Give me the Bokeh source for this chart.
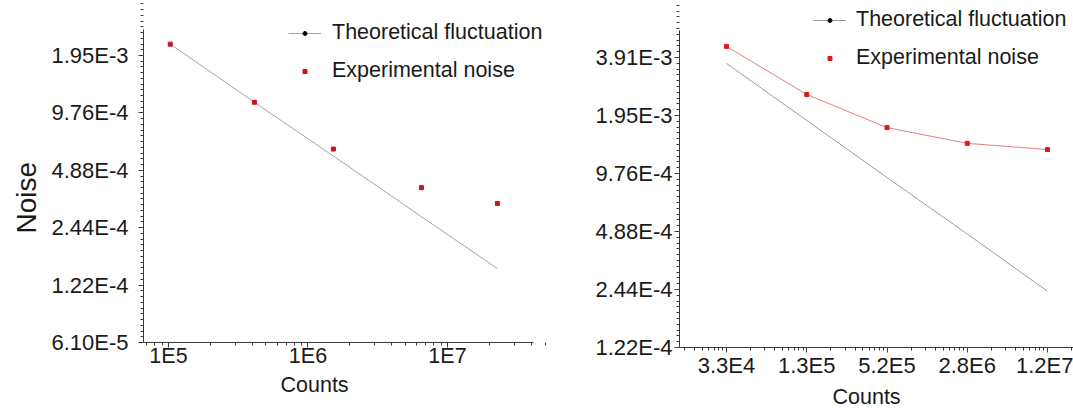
import math
from bokeh.plotting import figure
from bokeh.models import (FixedTicker, Legend, LegendItem, Title,
                          Range1d, CustomJSTickFormatter)
from bokeh.layouts import row
from bokeh.embed import file_html
from bokeh.resources import INLINE

FONT = "Liberation Sans"

# ---------------- data: left panel ----------------
left_counts = [1.03e5, 4.13e5, 1.52e6, 6.5e6, 2.28e7]
left_theory = [2.24e-3, 1.11e-3, 5.8e-4, 2.79e-4, 1.49e-4]
left_exp = [2.24e-3, 1.11e-3, 6.31e-4, 3.96e-4, 3.27e-4]
left_y_ticks = [2 ** -9, 2 ** -10, 2 ** -11, 2 ** -12, 2 ** -13, 2 ** -14]
left_y_labels = ["1.95E-3", "9.76E-4", "4.88E-4", "2.44E-4", "1.22E-4", "6.10E-5"]
left_x_ticks = [1e5, 1e6, 1e7]
left_x_labels = ["1E5", "1E6", "1E7"]

# ---------------- data: right panel ----------------
right_count_labels = ["3.3E4", "1.3E5", "5.2E5", "2.8E6", "1.2E7"]
right_theory = [3.64e-3, 1.84e-3, 9.31e-4, 4.74e-4, 2.39e-4]
right_exp = [4.46e-3, 2.51e-3, 1.69e-3, 1.40e-3, 1.30e-3]
right_y_ticks = [2 ** -8, 2 ** -9, 2 ** -10, 2 ** -11, 2 ** -12, 2 ** -13]
right_y_labels = ["3.91E-3", "1.95E-3", "9.76E-4", "4.88E-4", "2.44E-4", "1.22E-4"]

AXIS_COLOR = "#3a3a3a"
TEXT_COLOR = "#1a1a1a"
THEORY_COLOR = "#a4a4a4"
EXP_COLOR = "#cc1420"
EXP_LINE_COLOR = "#e58080"

LOG_FMT = """
let best = 0, bd = Infinity;
for (let i = 0; i < tv.length; i++) {
  const d = Math.abs(Math.log(tick) - Math.log(tv[i]));
  if (d < bd) { bd = d; best = i; }
}
return lb[best];
"""


def log_formatter(tick_vals, labels):
    return CustomJSTickFormatter(args=dict(tv=tick_vals, lb=labels), code=LOG_FMT)


def octave_minors(lo_exp, hi_exp, n):
    out = []
    for e in range(lo_exp, hi_exp):
        for i in range(1, n + 1):
            out.append(2 ** (e + i / (n + 1)))
    return out


def style_axis(ax, size="22px"):
    ax.axis_line_color = AXIS_COLOR
    ax.major_tick_line_color = AXIS_COLOR
    ax.minor_tick_line_color = AXIS_COLOR
    ax.major_tick_in = 0
    ax.major_tick_out = 5
    ax.minor_tick_in = 0
    ax.minor_tick_out = 3
    ax.major_label_text_font = FONT
    ax.major_label_text_font_size = size
    ax.major_label_text_color = TEXT_COLOR


def axis_title(text, size, offset, standoff):
    return Title(text=text, align="left", offset=offset, standoff=standoff,
                 text_font=FONT, text_font_size=size, text_font_style="normal",
                 text_color=TEXT_COLOR)


def style_legend(p, items, loc, standoff):
    lg = Legend(items=items, location=loc)
    lg.label_text_font = FONT
    lg.label_text_font_size = "21.5px"
    lg.label_text_color = TEXT_COLOR
    lg.border_line_color = None
    lg.background_fill_alpha = 0
    lg.padding = 0
    lg.margin = 0
    lg.glyph_width = 33
    lg.glyph_height = 10
    lg.label_height = 20
    lg.label_standoff = standoff
    lg.spacing = 13
    p.add_layout(lg, "center")


# ================= left figure =================
# frame extends to the top and right of the canvas so the legend is not clipped;
# the axes themselves are limited with bounds to the reference's extent
p1 = figure(frame_width=405, frame_height=340, x_axis_type="log", y_axis_type="log",
            x_range=Range1d(10 ** 4.821, 10 ** 7.724),
            y_range=Range1d(2 ** -14, 2 ** -8.077),
            output_backend="svg", toolbar_location=None,
            min_border_left=143, min_border_right=0,
            min_border_top=2, min_border_bottom=30)
p1.outline_line_color = None
p1.grid.visible = False

lt = p1.line(left_counts, left_theory, line_color=THEORY_COLOR, line_width=1)
ldot = p1.scatter([float("nan")], [float("nan")], marker="circle", size=3,
                  fill_color="black", line_color="black")
le = p1.scatter(left_counts, left_exp, marker="square", size=4,
                fill_color=EXP_COLOR, line_color=EXP_COLOR)

x_minor_l = [k * 10 ** n for n in range(4, 8) for k in range(2, 10)]
xax1 = p1.xaxis[0]
yax1 = p1.yaxis[0]
xax1.ticker = FixedTicker(ticks=left_x_ticks, minor_ticks=x_minor_l)
xax1.formatter = log_formatter(left_x_ticks, left_x_labels)
xax1.bounds = (10 ** 4.821, 10 ** 7.617)
yax1.ticker = FixedTicker(ticks=left_y_ticks, minor_ticks=octave_minors(-14, -8, 9))
yax1.formatter = log_formatter(left_y_ticks, left_y_labels)
yax1.bounds = (2 ** -14, 2 ** -8.547)
style_axis(xax1, "21.5px")
style_axis(yax1)
xax1.major_label_standoff = -4
yax1.major_label_standoff = 10

p1.add_layout(axis_title("Counts", "21.5px", 137, 0), "below")
p1.add_layout(axis_title("Noise", "28px", 109, 14), "left")

style_legend(p1, [LegendItem(label="Theoretical fluctuation", renderers=[lt, ldot]),
                  LegendItem(label="Experimental noise", renderers=[le])], (145, 259), 11)

# ================= right figure =================
right_pos = list(range(len(right_count_labels)))
p2 = figure(frame_width=394, frame_height=345, y_axis_type="log",
            x_range=Range1d(-0.586, 4.324),
            y_range=Range1d(2 ** -13, 2 ** -7.052),
            output_backend="svg", toolbar_location=None,
            min_border_left=131, min_border_right=0,
            min_border_top=2, min_border_bottom=30)
p2.outline_line_color = None
p2.grid.visible = False

rt = p2.line(right_pos, right_theory, line_color="#9a9a9a", line_width=1)
rdot = p2.scatter([float("nan")], [float("nan")], marker="circle", size=3,
                  fill_color="black", line_color="black")
p2.line(right_pos, right_exp, line_color=EXP_LINE_COLOR, line_width=1)
re_ = p2.scatter(right_pos, right_exp, marker="square", size=4,
                 fill_color="#dd1a1a", line_color="#dd1a1a")

x_minor_r = [i + math.log10(k) for i in range(-1, 5) for k in range(2, 10)]
xax2 = p2.xaxis[0]
yax2 = p2.yaxis[0]
xax2.ticker = FixedTicker(ticks=right_pos, minor_ticks=x_minor_r)
xax2.major_label_overrides = {i: s for i, s in zip(right_pos, right_count_labels)}
yax2.ticker = FixedTicker(ticks=right_y_ticks, minor_ticks=octave_minors(-13, -7, 9))
yax2.formatter = log_formatter(right_y_ticks, right_y_labels)
yax2.bounds = (2 ** -13, 2 ** -7.534)
style_axis(xax2)
style_axis(yax2)
xax2.major_label_standoff = 0
yax2.major_label_standoff = 2

p2.add_layout(axis_title("Counts", "21.5px", 153, 4), "below")

style_legend(p2, [LegendItem(label="Theoretical fluctuation", renderers=[rt, rdot]),
                  LegendItem(label="Experimental noise", renderers=[re_])], (134, 277), 10)

layout = row(p1, p2)
open("out.html", "w").write(file_html(layout, INLINE))
